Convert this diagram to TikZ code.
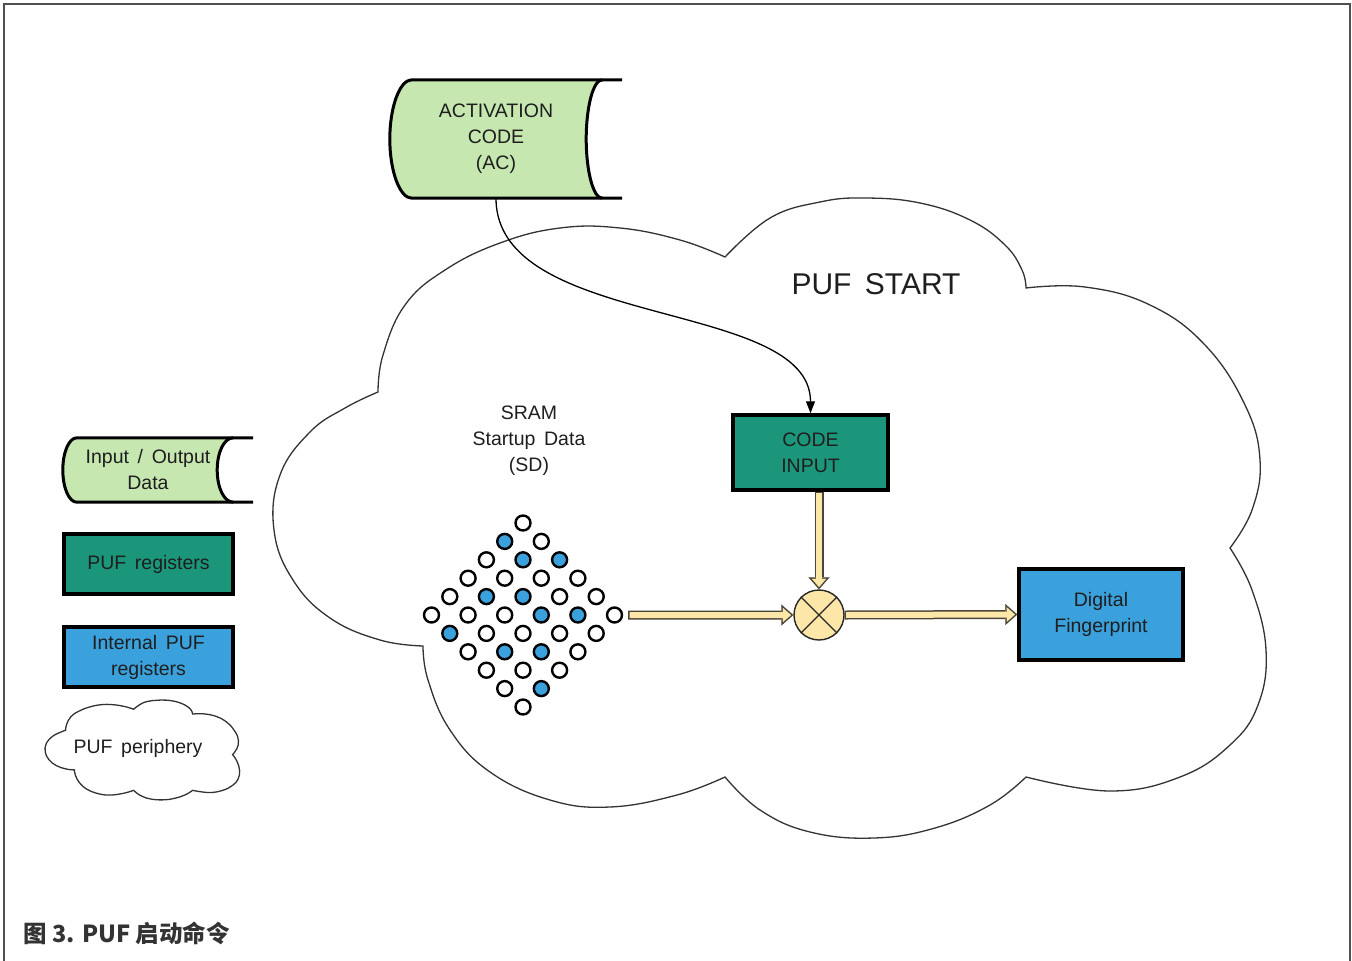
\documentclass[tikz,border=0pt]{standalone}
\usepackage{fontspec}
\setmainfont[WordSpace=1.6]{Liberation Sans}
\newfontfamily\cjk{Noto Sans CJK SC}
\usetikzlibrary{arrows.meta,calc,positioning,backgrounds}
\definecolor{iogreen}{HTML}{C6E8B0}
\definecolor{regteal}{HTML}{1C967B}
\definecolor{regblue}{HTML}{3AA1DC}
\definecolor{mixyellow}{HTML}{FCE6A8}
\definecolor{barline}{HTML}{4A4436}
\definecolor{inkdark}{HTML}{1E1E1E}
\definecolor{framegray}{HTML}{505050}

% outline of an input/output data block round node #1
\newcommand\iodata[3]{%
  \begin{pgfonlayer}{background}
  \fill[iogreen] ($(#1.north west)+(#2,0)$) .. controls +(-0.55*#2,0) and +(0,-#3) .. (#1.west)
    .. controls +(0,#3) and +(-0.55*#2,0) .. ($(#1.south west)+(#2,0)$) -- (#1.south east)
    .. controls +(-9,0) and +(0,#3) .. ($(#1.east)+(-16,0)$)
    .. controls +(0,-#3) and +(-9,0) .. (#1.north east) -- cycle;
  \draw[ioline] ($(#1.north east)+(20,0)$) -- ($(#1.north west)+(#2,0)$)
    .. controls +(-0.55*#2,0) and +(0,-#3) .. (#1.west)
    .. controls +(0,#3) and +(-0.55*#2,0) .. ($(#1.south west)+(#2,0)$) -- ($(#1.south east)+(20,0)$);
  \draw[ioline] (#1.south east) .. controls +(-9,0) and +(0,#3) .. ($(#1.east)+(-16,0)$)
    .. controls +(0,-#3) and +(-9,0) .. (#1.north east);
  \end{pgfonlayer}}

% lobes of the periphery cloud
\newcommand\cloudline{plot[smooth,tension=0.7] coordinates {(378,392) (383,355) (405,305) (445,270) (500,243) (560,228) (620,228) (680,240) (725,257)}
  -- plot[smooth,tension=0.7] coordinates {(725,257) (770,218) (820,202) (865,198) (920,203) (970,220) (1005,245) (1022,270) (1026,288)}
  -- plot[smooth,tension=0.7] coordinates {(1026,288) (1085,287) (1150,305) (1205,345) (1245,405) (1260,460) (1252,510) (1230,548)}
  -- plot[smooth,tension=0.7] coordinates {(1230,548) (1252,590) (1266,650) (1258,705) (1230,745) (1180,777) (1110,791) (1026,777)}
  -- plot[smooth,tension=0.7] coordinates {(1026,777) (990,805) (935,828) (874,838) (810,832) (760,810) (725,777)}
  -- plot[smooth,tension=0.7] coordinates {(725,777) (677,795) (610,807) (550,800) (490,772) (450,730) (428,680) (423,646)}
  -- plot[smooth,tension=0.7] coordinates {(423,646) (380,640) (330,618) (293,580) (274,530) (280,475) (310,432) (345,408) (378,392)} -- cycle}

\begin{document}
\begin{tikzpicture}[x=1pt,y=-1pt,font=\fontsize{19.5}{26}\selectfont,
  reg/.style={draw=black,line width=3.5pt,inner sep=0pt,align=center,text=inkdark},
  iobox/.style={inner sep=0pt,align=center,text=inkdark},
  ioline/.style={line width=3pt},
  dot/.style={circle,draw=black,line width=2.4pt,minimum size=15pt,inner sep=0pt},
  cloudedge/.style={draw=black!80,line width=1.3pt},
  barout/.style={line width=9pt,draw=barline,-{Triangle[length=12pt,width=21pt,line width=0.1pt]}},
  barin/.style={line width=6pt,draw=mixyellow,shorten <=1.5pt,shorten >=2.3pt,-{Triangle[length=8.2pt,width=14.4pt,line width=0.1pt]}},
  flow/.style={line width=1.3pt,-{Triangle[length=12pt,width=9pt]}}]
\useasboundingbox (0,0) rectangle (1352,961);
\draw[framegray,line width=2pt] (4,961) -- (4,4) -- (1350,4) -- (1350,961);

% PUF start
\draw[cloudedge] \cloudline;
\node[font=\fontsize{30}{36}\selectfont,text=inkdark] (start) at (876,284) {PUF START};

\node[iobox,minimum width=212pt,minimum height=118pt] (ac) at (496,139) {ACTIVATION\\CODE\\(AC)};
\iodata{ac}{22}{32}

\node[reg,fill=regteal,minimum width=155pt,minimum height=75pt] (code) at (810.5,452.5) {CODE\\INPUT};
\node[reg,fill=regblue,minimum width=164pt,minimum height=91pt] (fp) at (1101,614.5) {Digital\\Fingerprint};
\node[circle,draw=black!85,line width=1.4pt,fill=mixyellow,minimum size=50pt,inner sep=0pt] (mix) at (819,615) {};
\draw[black!85,line width=1.2pt] (mix.45) -- (mix.225) (mix.135) -- (mix.-45);

% SRAM cells
\node[align=center,text=inkdark] (sram) at (529,441) {SRAM\\Startup Data\\(SD)};
\foreach \i in {0,...,5}{
  \foreach \j in {0,...,5}{
    \pgfmathtruncatemacro\isblue{{0,1,0,0,0,0, 0,1,0,1,0,1, 1,0,1,0,0,0, 0,0,1,0,1,0, 0,1,0,1,0,0, 0,0,0,0,1,0}[\i*6+\j]}
    \ifnum\isblue=1 \def\dotfill{regblue}\else\def\dotfill{white}\fi
    \node[dot,fill=\dotfill] (c-\i-\j) at ({523+(\i-\j)*18.3},{523+(\i+\j)*18.4}) {};
  }
}

\draw[barout,shorten <=5pt] (c-5-0.east) -- (mix.west);
\draw[barin,shorten <=6.5pt] (c-5-0.east) -- (mix.west);
\draw[barout] (mix.north |- code.south) -- (mix.north);
\draw[barin] (mix.north |- code.south) -- (mix.north);
\draw[barout] (mix.east) -- (fp.west);
\draw[barin] (mix.east) -- (fp.west);
\draw[flow] (ac.south) .. controls +(0,132) and +(0,-115) .. (code.north);

% legend
\node[iobox,minimum width=170pt,minimum height=64pt] (iolegend) at (148,470) {Input / Output\\Data};
\iodata{iolegend}{14}{18}
\node[reg,fill=regteal,minimum width=169pt,minimum height=60pt] (reglegend) at (148.5,564) {PUF registers};
\node[reg,fill=regblue,minimum width=169pt,minimum height=60pt] (intlegend) at (148.5,657) {Internal PUF\\registers};
\begin{scope}[shift={(45,700)},xscale=0.196,yscale=0.156,shift={(-273,-198)}]
  \draw[cloudedge] \cloudline;
\end{scope}
\node[text=inkdark] (perilegend) at (138,748) {PUF periphery};

\node[anchor=base west,text=black!80,font=\fontsize{23.5}{28}\selectfont\cjk\bfseries] (caption) at (20,942) {图 3. PUF 启动命令};
\end{tikzpicture}
\end{document}
